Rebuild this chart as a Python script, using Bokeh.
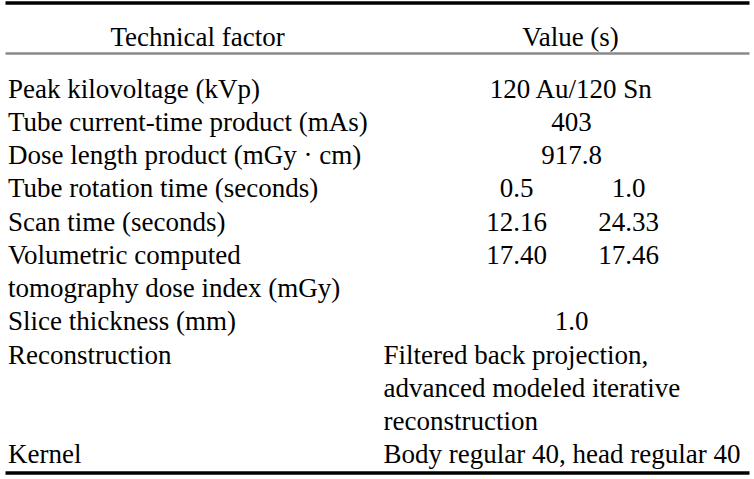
from bokeh.plotting import figure
from bokeh.models import ColumnDataSource, Range1d
from bokeh.core.properties import value
from bokeh.embed import file_html
from bokeh.resources import INLINE

# ---- table content ----
headers = ["Technical factor", "Value (s)"]
factors = [
    "Peak kilovoltage (kVp)",
    "Tube current-time product (mAs)",
    "Dose length product (mGy · cm)",
    "Tube rotation time (seconds)",
    "Scan time (seconds)",
    "Volumetric computed\ntomography dose index (mGy)",
    "Slice thickness (mm)",
    "Reconstruction",
    "Kernel",
]
# values: single centred value, pair of sub-column values, or left-aligned text
values = [
    ["120 Au/120 Sn"],
    ["403"],
    ["917.8"],
    ["0.5", "1.0"],
    ["12.16", "24.33"],
    ["17.40", "17.46"],
    ["1.0"],
    ["Filtered back projection,\nadvanced modeled iterative\nreconstruction"],
    ["Body regular 40, head regular 40"],
]
left_aligned_values = [False, False, False, False, False, False, False, True, True]

# ---- layout ----
W, H = 752, 477
FONT = "Liberation Serif"
FS = "27px"
COLOR = "#000000"
ROW0 = 88.0
STEP = 33.27
X_LABEL = 7.5
X_VAL_LEFT = 383
X_VAL_CENTER = 571
X_SUB = [516, 628]
X_HEAD = [197, 570]
Y_HEAD = 36

p = figure(width=W, height=H, output_backend="svg", toolbar_location=None,
           x_range=Range1d(0, W), y_range=Range1d(H, 0),
           min_border=0, outline_line_color=None, background_fill_color="white",
           border_fill_color="white")
p.axis.visible = False
p.grid.visible = False

xs, ys, ts, aligns = [], [], [], []

# headers
for i, h in enumerate(headers):
    xs.append(X_HEAD[i]); ys.append(Y_HEAD); ts.append(h); aligns.append("center")

line_idx = 0
for f, vals, la in zip(factors, values, left_aligned_values):
    flines = f.split("\n")
    nl = len(flines)
    for k, t in enumerate(flines):
        xs.append(X_LABEL); ys.append(ROW0 + (line_idx + k) * STEP); ts.append(t); aligns.append("left")
    if len(vals) == 2:
        for j, v in enumerate(vals):
            xs.append(X_SUB[j]); ys.append(ROW0 + line_idx * STEP); ts.append(v); aligns.append("center")
    else:
        vlines = vals[0].split("\n")
        nl = max(nl, len(vlines))
        for k, t in enumerate(vlines):
            xs.append(X_VAL_LEFT if la else X_VAL_CENTER)
            ys.append(ROW0 + (line_idx + k) * STEP)
            ts.append(t)
            aligns.append("left" if la else "center")
    line_idx += nl

src = ColumnDataSource(dict(x=xs, y=ys, text=ts, align=aligns))
p.text(x="x", y="y", text="text", source=src, text_align="align",
       text_baseline="alphabetic", text_font=value(FONT), text_font_size=FS,
       text_color=COLOR)

# rules
p.segment(x0=[5], y0=[2.5], x1=[749], y1=[2.5], line_color="#000000", line_width=3.5)
p.segment(x0=[5], y0=[53], x1=[749], y1=[53], line_color="#8a8a8a", line_width=2.5)
p.segment(x0=[5], y0=[472.5], x1=[749], y1=[472.5], line_color="#000000", line_width=3.5)

open("out.html", "w").write(file_html(p, INLINE))
